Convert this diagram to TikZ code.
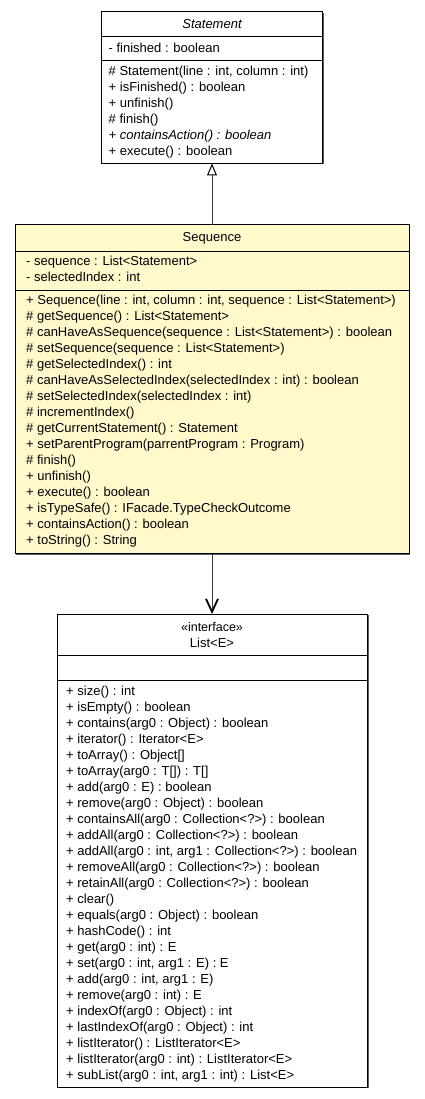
\documentclass[tikz,border=0pt]{standalone}
\usepackage{fontspec}
\setmainfont{Liberation Sans}
\usetikzlibrary{arrows.meta}
\definecolor{seqfill}{HTML}{FFF9CC}
\definecolor{shadowgray}{HTML}{5A5A5A}
\definecolor{linkgray}{HTML}{3A3A3A}
\begin{document}
\begin{tikzpicture}[x=1pt,y=-1pt,
  box/.style={draw=black, line width=1pt, fill=white, inner sep=0pt, outer sep=0pt, anchor=north west},
  seqbox/.style={box, fill=seqfill},
  shade/.style={fill=shadowgray},
  sep/.style={draw=black, line width=1pt},
  txt/.style={anchor=base west, inner sep=0pt, font=\fontsize{13}{16}\selectfont},
  title/.style={anchor=base, inner sep=0pt, font=\fontsize{13}{16}\selectfont},
  link/.style={draw=linkgray, line width=1pt}]
\useasboundingbox (0,0) rectangle (424,1099);

% shadows
\fill[shade] (102.5,13) rectangle (323.5,164.5);
\fill[shade] (16,226) rectangle (410,554.5);
\fill[shade] (58,615) rectangle (368.5,1088);

% Statement
\node[box, minimum width=221pt, minimum height=151.5pt] (stmt) at (101.5,12) {};
\draw[sep] (stmt.west |- 0,37) -- (stmt.east |- 0,37);
\draw[sep] (stmt.west |- 0,61) -- (stmt.east |- 0,61);
\node[title, font=\fontsize{13}{16}\selectfont\itshape] (stmtname) at (212,28.3) {Statement};
\node[txt] (sa1) at (108.5,52.7) {- finished : boolean};
\node[txt] (sm1) at (108.5,76) {\# Statement(line : int, column : int)};
\node[txt] (sm2) at (108.5,92) {+ isFinished() : boolean};
\node[txt] (sm3) at (108.5,108) {+ unfinish()};
\node[txt] (sm4) at (108.5,124) {\# finish()};
\node[txt, font=\fontsize{13}{16}\selectfont\itshape] (sm5) at (108.5,140) {+ containsAction() : boolean};
\node[txt] (sm6) at (108.5,156) {+ execute() : boolean};

% Sequence
\node[seqbox, minimum width=394pt, minimum height=328.5pt] (seq) at (15,225) {};
\draw[sep] (seq.west |- 0,251) -- (seq.east |- 0,251);
\draw[sep] (seq.west |- 0,290) -- (seq.east |- 0,290);
\node[title] (seqname) at (212,241) {Sequence};
\node[txt] (qa1) at (26,265.3) {- sequence : List<Statement>};
\node[txt] (qa2) at (26,281.3) {- selectedIndex : int};
\node[txt] (qm1) at (26,304.3) {+ Sequence(line : int, column : int, sequence : List<Statement>)};
\node[txt] (qm2) at (26,320.3) {\# getSequence() : List<Statement>};
\node[txt] (qm3) at (26,336.3) {\# canHaveAsSequence(sequence : List<Statement>) : boolean};
\node[txt] (qm4) at (26,352.3) {\# setSequence(sequence : List<Statement>)};
\node[txt] (qm5) at (26,368.3) {\# getSelectedIndex() : int};
\node[txt] (qm6) at (26,384.3) {\# canHaveAsSelectedIndex(selectedIndex : int) : boolean};
\node[txt] (qm7) at (26,400.3) {\# setSelectedIndex(selectedIndex : int)};
\node[txt] (qm8) at (26,416.3) {\# incrementIndex()};
\node[txt] (qm9) at (26,432.3) {\# getCurrentStatement() : Statement};
\node[txt] (qm10) at (26,448.3) {+ setParentProgram(parrentProgram : Program)};
\node[txt] (qm11) at (26,464.3) {\# finish()};
\node[txt] (qm12) at (26,480.3) {+ unfinish()};
\node[txt] (qm13) at (26,496.3) {+ execute() : boolean};
\node[txt] (qm14) at (26,512.3) {+ isTypeSafe() : IFacade.TypeCheckOutcome};
\node[txt] (qm15) at (26,528.3) {+ containsAction() : boolean};
\node[txt] (qm16) at (26,544.3) {+ toString() : String};

% List<E>
\node[box, minimum width=310.5pt, minimum height=473pt] (list) at (57,614) {};
\draw[sep] (list.west |- 0,655) -- (list.east |- 0,655);
\draw[sep] (list.west |- 0,680) -- (list.east |- 0,680);
\node[title, font=\fontsize{12.5}{14}\selectfont] (liststereo) at (212,631) {«interface»};
\node[title] (listname) at (212,647.6) {List<E>};
\node[txt] (l1) at (66,695.3) {+ size() : int};
\node[txt] (l2) at (66,711.3) {+ isEmpty() : boolean};
\node[txt] (l3) at (66,727.3) {+ contains(arg0 : Object) : boolean};
\node[txt] (l4) at (66,743.3) {+ iterator() : Iterator<E>};
\node[txt] (l5) at (66,759.3) {+ toArray() : Object[]};
\node[txt] (l6) at (66,775.3) {+ toArray(arg0 : T[]) : T[]};
\node[txt] (l7) at (66,791.3) {+ add(arg0 : E) : boolean};
\node[txt] (l8) at (66,807.3) {+ remove(arg0 : Object) : boolean};
\node[txt] (l9) at (66,823.3) {+ containsAll(arg0 : Collection<?>) : boolean};
\node[txt] (l10) at (66,839.3) {+ addAll(arg0 : Collection<?>) : boolean};
\node[txt] (l11) at (66,855.3) {+ addAll(arg0 : int, arg1 : Collection<?>) : boolean};
\node[txt] (l12) at (66,871.3) {+ removeAll(arg0 : Collection<?>) : boolean};
\node[txt] (l13) at (66,887.3) {+ retainAll(arg0 : Collection<?>) : boolean};
\node[txt] (l14) at (66,903.3) {+ clear()};
\node[txt] (l15) at (66,919.3) {+ equals(arg0 : Object) : boolean};
\node[txt] (l16) at (66,935.3) {+ hashCode() : int};
\node[txt] (l17) at (66,951.3) {+ get(arg0 : int) : E};
\node[txt] (l18) at (66,967.3) {+ set(arg0 : int, arg1 : E) : E};
\node[txt] (l19) at (66,983.3) {+ add(arg0 : int, arg1 : E)};
\node[txt] (l20) at (66,999.3) {+ remove(arg0 : int) : E};
\node[txt] (l21) at (66,1015.3) {+ indexOf(arg0 : Object) : int};
\node[txt] (l22) at (66,1031.3) {+ lastIndexOf(arg0 : Object) : int};
\node[txt] (l23) at (66,1047.3) {+ listIterator() : ListIterator<E>};
\node[txt] (l24) at (66,1063.3) {+ listIterator(arg0 : int) : ListIterator<E>};
\node[txt] (l25) at (66,1079.3) {+ subList(arg0 : int, arg1 : int) : List<E>};

% connectors
\draw[link, -{Triangle[open, length=12pt, width=10pt, line width=1pt, color=black]}] (seq.north -| 212,0) -- (stmt.south -| 212,0);
\draw[link, -{Straight Barb[length=13pt, width=12pt, line width=1.8pt, color=black]}] (seq.south -| 212,0) -- (list.north -| 212,0);
\end{tikzpicture}
\end{document}
